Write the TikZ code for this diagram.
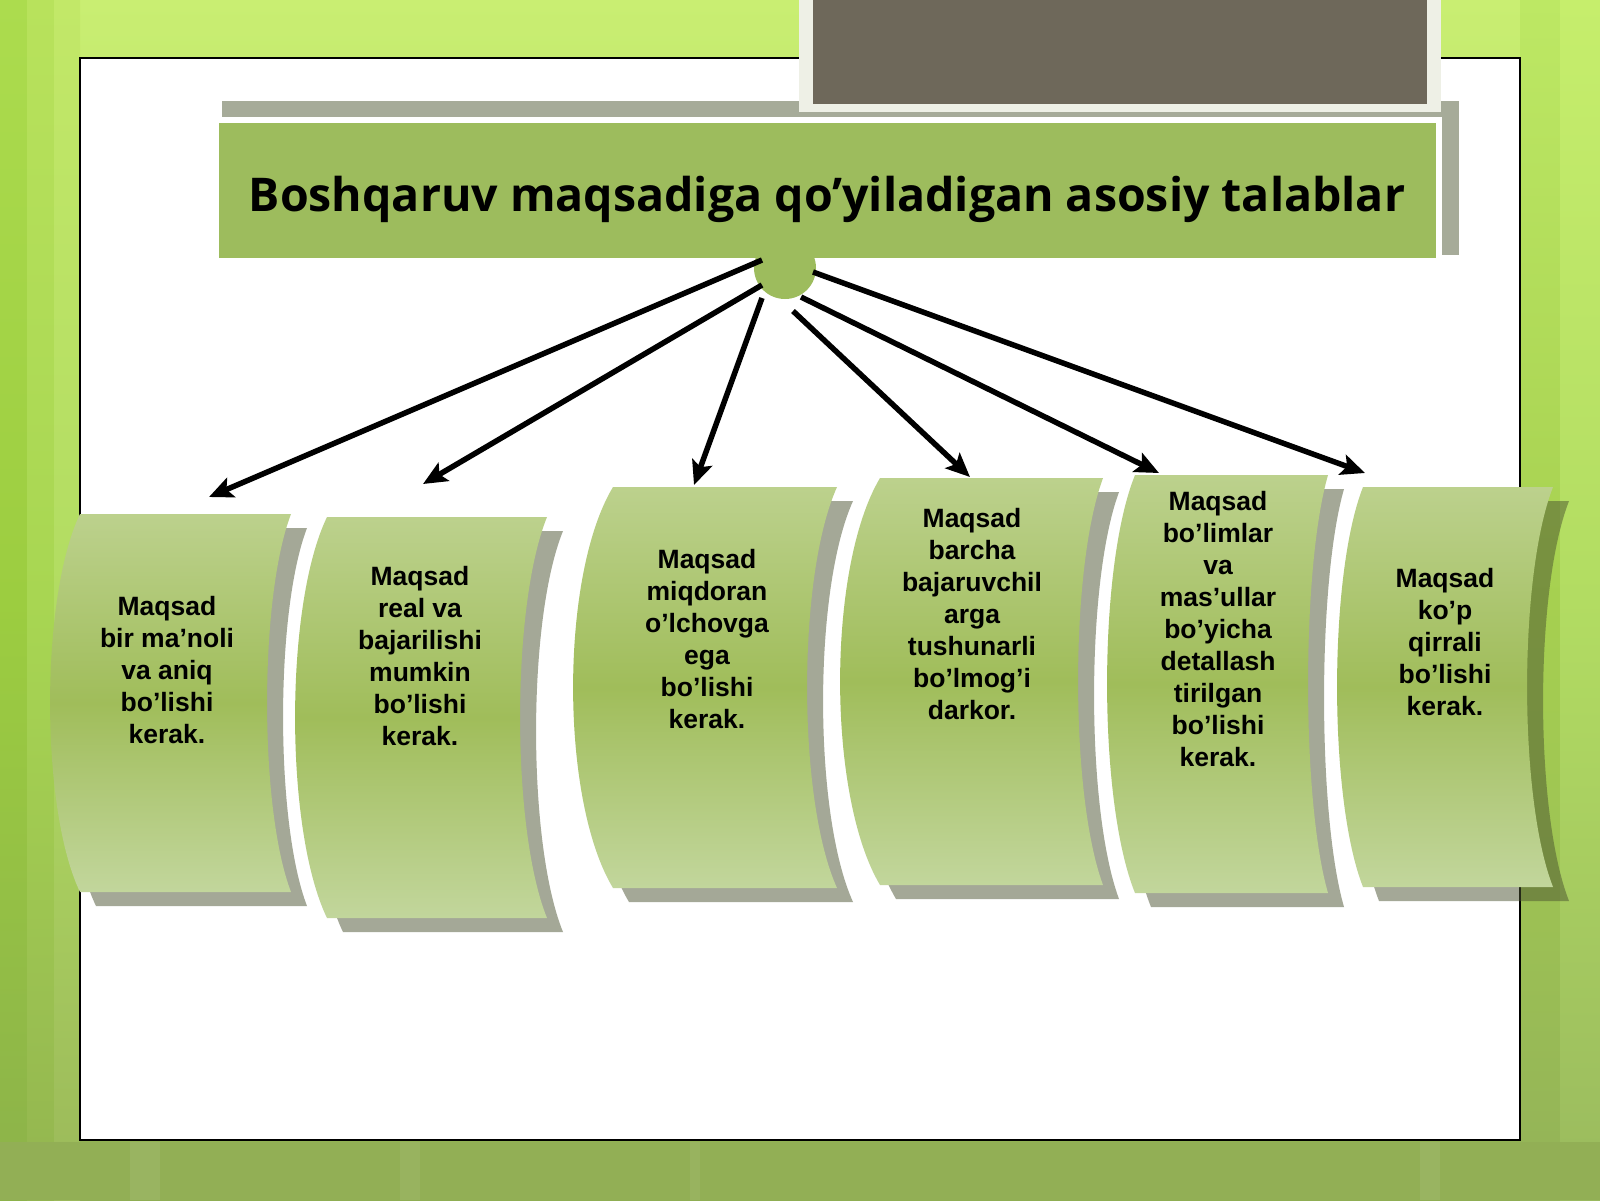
\documentclass[tikz,border=0pt]{standalone}
\usepackage{fontspec}
\newfontfamily\titlefont{Open Sans}
\newfontfamily\boxfont{Liberation Sans}
\usetikzlibrary{arrows.meta}
\definecolor{tgreen}{HTML}{9DBC5D}
\definecolor{tshadow}{HTML}{A6AB99}
\definecolor{darkbox}{HTML}{6E685A}
\definecolor{lightbox}{HTML}{EEF0E6}
\definecolor{shadowc}{HTML}{4A5230}
\definecolor{faceTop}{HTML}{BCD18D}
\definecolor{faceMid}{HTML}{A0BD5A}
\definecolor{faceBot}{HTML}{C2D69C}
\definecolor{bgTop}{HTML}{C9EE72}
\definecolor{bgMid}{HTML}{B0DA5C}
\definecolor{bgBot}{HTML}{8FAE52}
\definecolor{laT}{HTML}{ACDC4E}\definecolor{laM}{HTML}{9CCD40}\definecolor{laB}{HTML}{8CB24A}
\definecolor{lbT}{HTML}{B8E25C}\definecolor{lbM}{HTML}{A8D652}\definecolor{lbB}{HTML}{93B550}
\definecolor{lcT}{HTML}{C2E868}\definecolor{lcM}{HTML}{B2DC62}\definecolor{lcB}{HTML}{9BB95A}
\definecolor{raT}{HTML}{BDE864}\definecolor{raM}{HTML}{A6D050}\definecolor{raB}{HTML}{93B258}
\definecolor{rbT}{HTML}{C6EE6C}\definecolor{rbM}{HTML}{B2DC62}\definecolor{rbB}{HTML}{9ABA5E}
\definecolor{bottomc}{HTML}{92AF55}
\newcommand\DrawScroll[6]{%
  \pgfmathsetmacro\SBh{0.22*(#2-#1)}%
  \pgfmathsetmacro\SBrc{#5-1.33*#6}%
  \pgfmathsetmacro\SBlc{#3-1.33*#4}%
  \pgfmathsetmacro\SBya{#1+\SBh}%
  \pgfmathsetmacro\SByb{#2-\SBh}%
  \fill[shadowc, fill opacity=0.5, shift={(16,14)}] (#3,#1) -- (#5,#1)
    .. controls (\SBrc,\SBya) and (\SBrc,\SByb) .. (#5,#2) -- (#3,#2)
    .. controls (\SBlc,\SByb) and (\SBlc,\SBya) .. cycle;
  \shade[top color=faceTop, bottom color=faceBot, middle color=faceMid] (#3,#1) -- (#5,#1)
    .. controls (\SBrc,\SBya) and (\SBrc,\SByb) .. (#5,#2) -- (#3,#2)
    .. controls (\SBlc,\SByb) and (\SBlc,\SBya) .. cycle;
}
\begin{document}
\begin{tikzpicture}[x=1pt,y=-1pt,
  boxtext/.style={anchor=north, inner sep=0pt, align=center, text=black,
    font=\boxfont\bfseries\fontsize{26.5}{32}\selectfont},
  arr/.style={line width=5.5pt, black, -{Stealth[length=24pt,width=21pt,inset=5pt]}}]
\useasboundingbox (0,0) rectangle (1600,1200);
% background
\shade[top color=bgTop, bottom color=bgBot, middle color=bgMid] (0,0) rectangle (1600,1200);
\shade[top color=laT, bottom color=laB, middle color=laM] (0,0) rectangle (27,1200);
\shade[top color=lbT, bottom color=lbB, middle color=lbM] (27,0) rectangle (54,1200);
\shade[top color=lcT, bottom color=lcB, middle color=lcM] (54,0) rectangle (80,1200);
\shade[top color=raT, bottom color=raB, middle color=raM] (1520,0) rectangle (1560,1200);
\shade[top color=rbT, bottom color=rbB, middle color=rbM] (1560,0) rectangle (1600,1200);
\fill[bottomc] (0,1142) rectangle (1600,1200);
\fill[white, opacity=0.07] (130,1142) rectangle (160,1200);
\fill[white, opacity=0.06] (400,1142) rectangle (420,1200);
\fill[white, opacity=0.06] (690,1142) rectangle (700,1200);
\fill[white, opacity=0.07] (1420,1142) rectangle (1440,1200);
% frame
\draw[black, line width=1.5pt, fill=white] (80,58) rectangle (1520,1140);
% title box shadow
\fill[tshadow] (222,101) rectangle (1459,255);
% gray box at top
\fill[lightbox] (799,0) rectangle (1441,112);
\fill[darkbox] (813,0) rectangle (1427,104);
% title box
\node[draw=white, line width=6pt, fill=tgreen, minimum width=1223pt, minimum height=141pt,
  inner sep=0pt] (titlebox) at (827.5,190.5) {};
\node[anchor=base, inner sep=0pt, font=\titlefont\bfseries\fontsize{46.5}{56}\selectfont]
  (title) at (827,211) {Boshqaruv maqsadiga qo’yiladigan asosiy talablar};
\node[circle, fill=tgreen, minimum size=62pt, inner sep=0pt] (hub) at (785,268) {};
% scroll boxes
\DrawScroll{514}{892}{80}{30}{291}{24}
\DrawScroll{517}{918}{327}{32}{547}{27}
\DrawScroll{487}{888}{613}{40}{837}{30}
\DrawScroll{478}{885}{880}{40}{1103}{25}
\DrawScroll{475}{893}{1135}{28}{1328}{20}
\DrawScroll{487}{887}{1363}{26}{1553}{26}
% texts
\node[boxtext] (t1) at (167,596) {Maqsad\\bir ma’noli\\va aniq\\bo’lishi\\kerak.};
\node[boxtext] (t2) at (420,566) {Maqsad\\real va\\bajarilishi\\mumkin\\bo’lishi\\kerak.};
\node[boxtext] (t3) at (707,549) {Maqsad\\miqdoran\\o’lchovga\\ega\\bo’lishi\\kerak.};
\node[boxtext] (t4) at (972,508) {Maqsad\\barcha\\bajaruvchil\\arga\\tushunarli\\bo’lmog’i\\darkor.};
\node[boxtext] (t5) at (1218,491) {Maqsad\\bo’limlar\\va\\mas’ullar\\bo’yicha\\detallash\\tirilgan\\bo’lishi\\kerak.};
\node[boxtext] (t6) at (1445,568) {Maqsad\\ko’p\\qirrali\\bo’lishi\\kerak.};
% arrows
\coordinate (s1) at (762,260); \coordinate (e1) at (209,497);
\coordinate (s2) at (762,285); \coordinate (e2) at (423,484);
\coordinate (s3) at (762,298); \coordinate (e3) at (694,485);
\coordinate (s4) at (793,311); \coordinate (e4) at (970,477);
\coordinate (s5) at (801,297); \coordinate (e5) at (1159,473);
\coordinate (s6) at (813,272); \coordinate (e6) at (1365,473);
\draw[arr] (s1) -- (e1);
\draw[arr] (s2) -- (e2);
\draw[arr] (s3) -- (e3);
\draw[arr] (s4) -- (e4);
\draw[arr] (s5) -- (e5);
\draw[arr] (s6) -- (e6);
\end{tikzpicture}
\end{document}
